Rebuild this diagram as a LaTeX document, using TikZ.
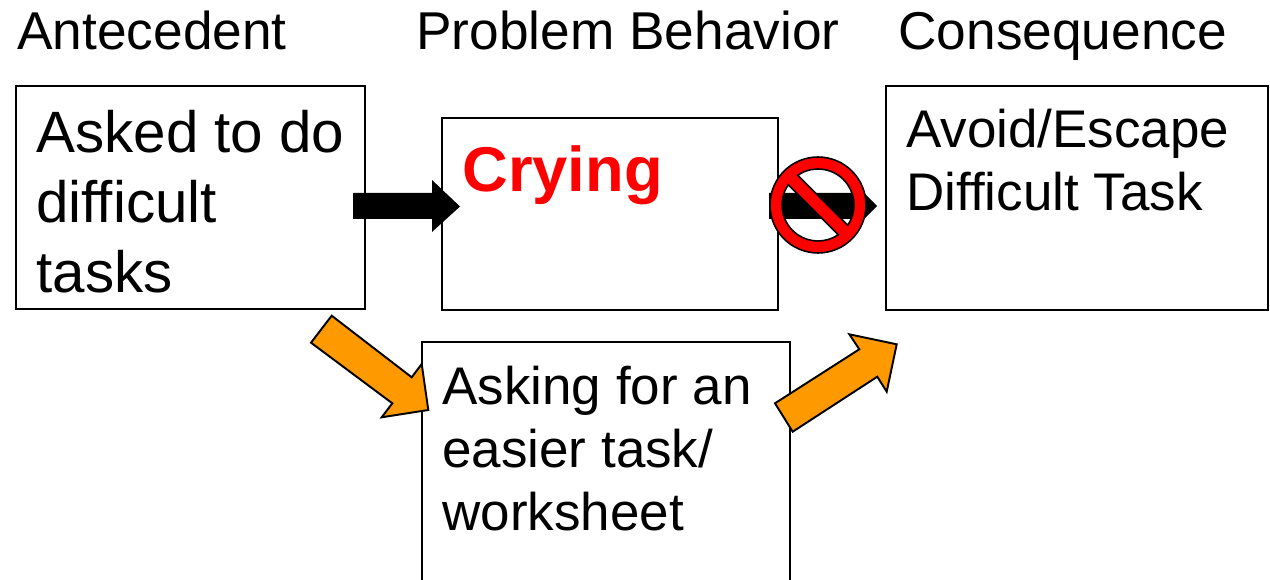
\documentclass[tikz,border=0pt]{standalone}
\usepackage{fontspec}
\setmainfont{Liberation Sans}
\usetikzlibrary{calc}

\definecolor{arroworange}{HTML}{FF9900}

\tikzset{
	box/.style={draw=black, line width=1.1pt, fill=white, rectangle, minimum width=#1, inner sep=0pt},
	heading/.style={anchor=base west, inner sep=0pt, font=\fontsize{30.3}{36}\selectfont},
	boxtext/.style={anchor=north west, inner sep=0pt, align=left, font=\fontsize{30.15}{35.8}\selectfont},
	blackarrow/.style={fill=black},
	orangearrow/.style={fill=arroworange, draw=black, line width=1.1pt, line join=miter},
}

\begin{document}
\begin{tikzpicture}[x=0.02cm,y=-0.02cm]
	\useasboundingbox (0,0) rectangle (1270,580);

	% headings
	\node[heading] (antecedenthead) at (17,50) {Antecedent};
	\node[heading] (behaviorhead) at (416,50) {Problem Behavior};
	\node[heading] (consequencehead) at (898,50) {Consequence};

	% boxes
	\node[box=6.98cm, minimum height=4.46cm] (antecedent) at (190.5,197.5) {};
	\node[box=6.72cm, minimum height=3.84cm] (crying) at (610,214) {};
	\node[box=7.64cm, minimum height=4.48cm] (consequence) at (1077,198) {};
	\node[box=7.36cm, minimum height=5.16cm] (asking) at (606,471) {};

	% box texts
	\node[boxtext, font=\fontsize{33.2}{39.7}\selectfont] (antecedenttext) at (36,110) {Asked to do\\difficult\\tasks};
	\node[boxtext, font=\fontsize{36}{42}\selectfont\bfseries, text=red] (cryingtext) at (462,145) {Crying};
	\node[boxtext] (consequencetext) at (906,109) {Avoid/Escape\\Difficult Task};
	\node[boxtext] (askingtext) at (442,366) {Asking for an\\easier task/\\worksheet};

	% block arrows
	\fill[blackarrow] (353,193) -- (432,193) -- (432,180) -- (460,206.5) -- (432,232) -- (432,219) -- (353,219) -- cycle;
	\fill[blackarrow] (769,193) -- (851,193) -- (851,180) -- (877,206) -- (851,232) -- (851,219) -- (769,219) -- cycle;
	\draw[orangearrow] (331.7,315.7) -- (411.7,377.3) -- (421.7,364) -- (428.3,410) -- (381.7,417.3) -- (392.3,403.3) -- (311,342.7) -- cycle;
	\draw[orangearrow] (775,403.3) -- (859.3,349.3) -- (849.3,334.3) -- (896.7,344.3) -- (886.7,391.7) -- (877.3,376.7) -- (792.7,431.7) -- cycle;

	% no sign
	\begin{scope}[shift={(818,205)}, x=1cm, y=1cm]
		\path[fill=red, draw=black, line width=0.9pt, even odd rule]
			(0,0) circle (0.96)
			(124.3:0.72) arc[start angle=124.3, end angle=-34.3, radius=0.72cm] -- cycle
			(145.7:0.72) arc[start angle=145.7, end angle=304.3, radius=0.72cm] -- cycle;
	\end{scope}
\end{tikzpicture}
\end{document}
